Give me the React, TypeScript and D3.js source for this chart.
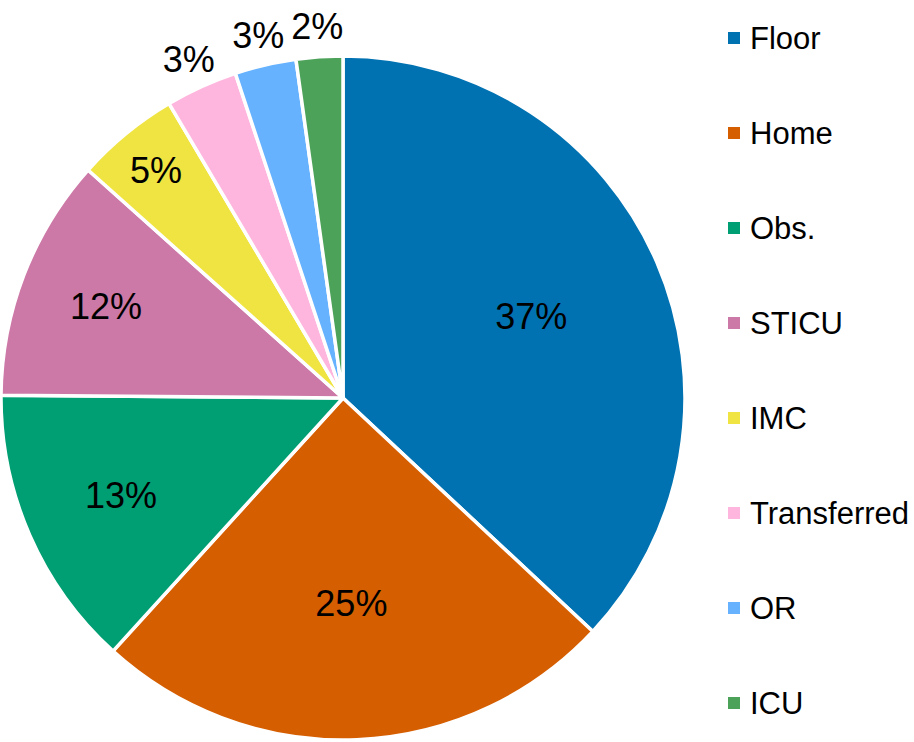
import React, { useEffect, useRef } from 'react';
import * as d3 from 'd3';

const categories = ['Floor', 'Home', 'Obs.', 'STICU', 'IMC', 'Transferred', 'OR', 'ICU'];
const shares = [37.0, 24.8, 13.4, 11.5, 4.9, 3.4, 2.9, 2.2];
const labels = ['37%', '25%', '13%', '12%', '5%', '3%', '3%', '2%'];
const colors = ['#0072B2', '#D55E00', '#009E73', '#CC79A7', '#F0E442', '#FFB6DE', '#66B2FF', '#4DA25A'];

const W = 914;
const H = 742;

const App: React.FC = () => {
    const svgRef = useRef<SVGSVGElement>(null);

    useEffect(() => {
        const svg = d3.select(svgRef.current);
        svg.selectAll('*').remove();

        const cx = 343;
        const cy = 398;
        const R = 342;
        const font = 'Liberation Sans, Arial, sans-serif';

        const data = categories.map((name, i) => ({ name, value: shares[i], label: labels[i], color: colors[i] }));

        const pie = d3.pie<typeof data[0]>()
            .value(d => d.value)
            .sort(null)
            .startAngle(0)
            .endAngle(2 * Math.PI);

        const arc = d3.arc<d3.PieArcDatum<typeof data[0]>>()
            .innerRadius(0)
            .outerRadius(R);

        const g = svg.append('g').attr('transform', `translate(${cx},${cy})`);
        const arcs = pie(data);

        g.selectAll('path')
            .data(arcs)
            .enter()
            .append('path')
            .attr('d', arc)
            .attr('fill', d => d.data.color)
            .attr('stroke', '#fff')
            .attr('stroke-width', 3.5)
            .attr('stroke-linejoin', 'round');

        // labels: small slices sit outside, the rest inside (further out for thinner slices)
        const labelRadius = (v: number) => v < 4 ? R * 1.09 : R * Math.max(0.6, 0.95 - v * 0.018);

        g.selectAll('text.pct')
            .data(arcs)
            .enter()
            .append('text')
            .attr('class', 'pct')
            .attr('x', d => {
                const a = (d.startAngle + d.endAngle) / 2;
                return Math.sin(a) * labelRadius(d.data.value);
            })
            .attr('y', d => {
                const a = (d.startAngle + d.endAngle) / 2;
                return -Math.cos(a) * labelRadius(d.data.value);
            })
            .attr('dy', '0.36em')
            .attr('text-anchor', 'middle')
            .style('font-family', font)
            .style('font-size', '36px')
            .style('fill', '#000')
            .text(d => d.data.label);

        // Legend
        const legendY = d3.scalePoint<string>()
            .domain(categories)
            .range([38, 703]);

        const legend = svg.append('g');
        const rows = legend.selectAll('g')
            .data(data)
            .enter()
            .append('g')
            .attr('transform', d => `translate(728,${legendY(d.name)})`);

        rows.append('rect')
            .attr('x', 0)
            .attr('y', -6)
            .attr('width', 12)
            .attr('height', 12)
            .attr('fill', d => d.color);

        rows.append('text')
            .attr('x', 22)
            .attr('y', 0)
            .attr('dy', '0.36em')
            .style('font-family', font)
            .style('font-size', '31px')
            .style('fill', '#000')
            .text(d => d.name);
    }, []);

    return (
        <div style={{ position: 'absolute', left: 0, top: 0 }}>
            <svg ref={svgRef} width={W} height={H} style={{ display: 'block', background: '#fff' }} />
        </div>
    );
};

export default App;
